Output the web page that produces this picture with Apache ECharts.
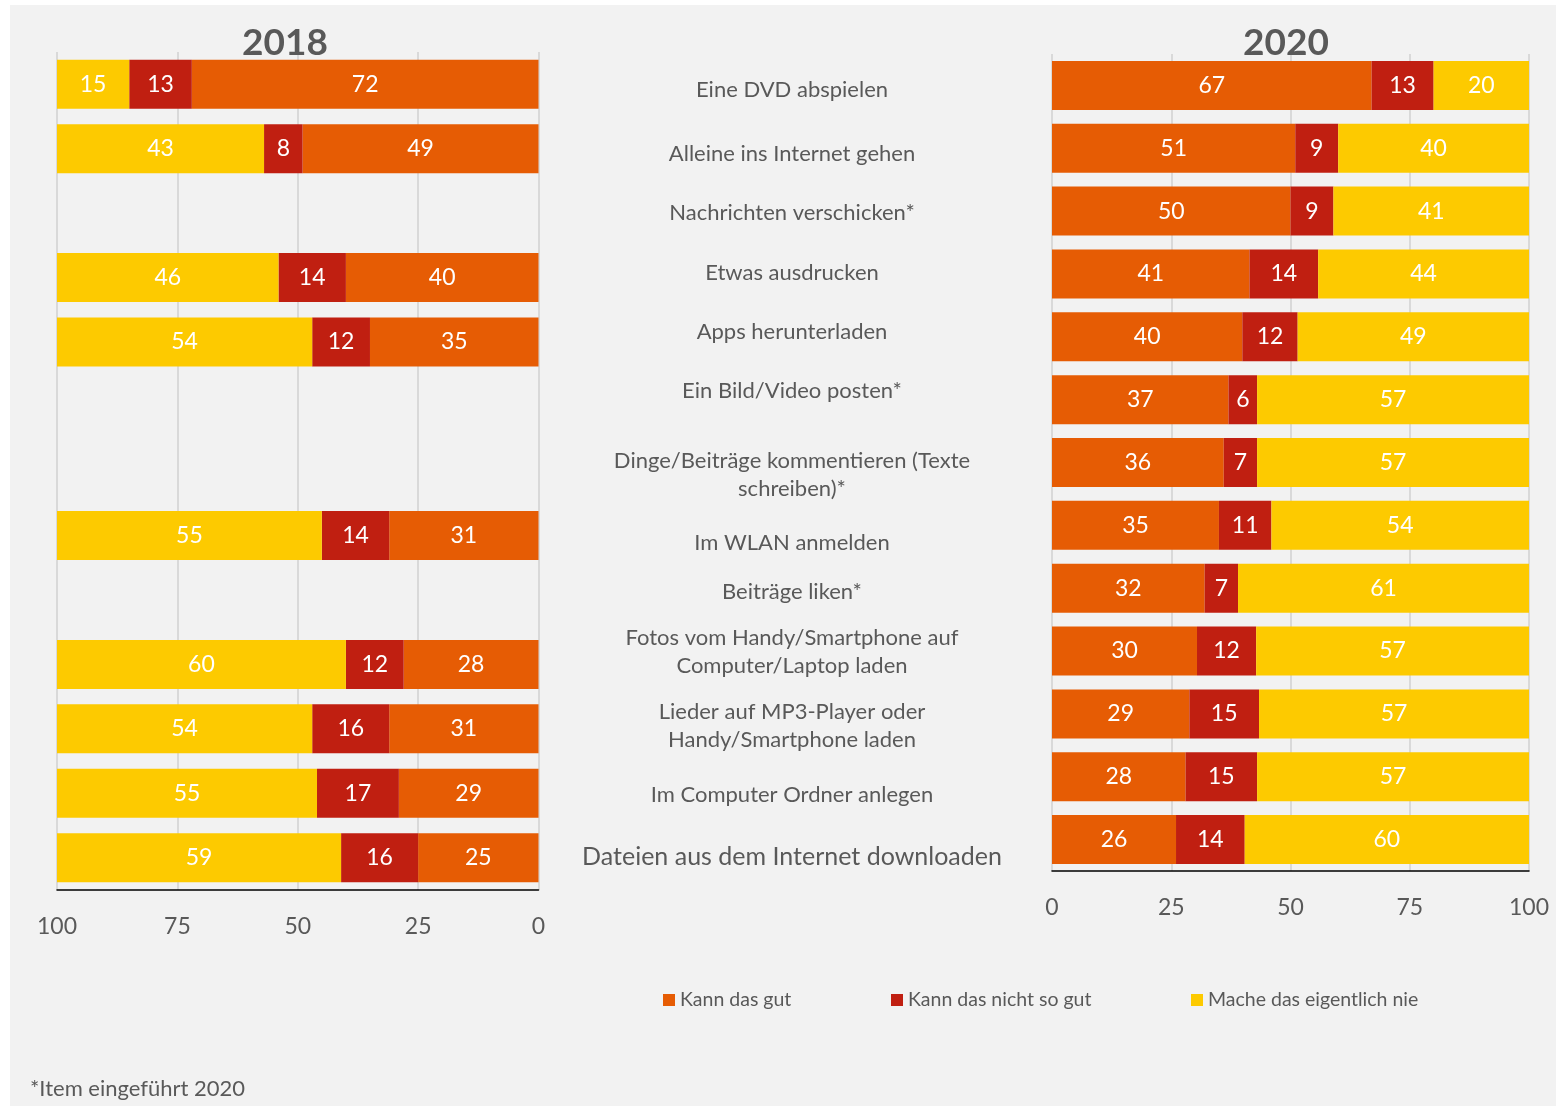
<!DOCTYPE html>
<html><head><meta charset="utf-8">
<script src="https://cdn.jsdelivr.net/npm/echarts@6/dist/echarts.min.js"></script>
<style>html,body{margin:0;padding:0;background:#fff}#c{width:1558px;height:1106px}</style>
</head><body><div id="c"></div>
<script>
const categories = [
  'Eine DVD abspielen',
  'Alleine ins Internet gehen',
  'Nachrichten verschicken*',
  'Etwas ausdrucken',
  'Apps herunterladen',
  'Ein Bild/Video posten*',
  'Dinge/Beiträge kommentieren (Texte\nschreiben)*',
  'Im WLAN anmelden',
  'Beiträge liken*',
  'Fotos vom Handy/Smartphone auf\nComputer/Laptop laden',
  'Lieder auf MP3-Player oder\nHandy/Smartphone laden',
  'Im Computer Ordner anlegen',
  'Dateien aus dem Internet downloaden'
];
const seriesNames = ['Kann das gut', 'Kann das nicht so gut', 'Mache das eigentlich nie'];
const years = ['2018', '2020'];
const gut2018        = [72, 49, null, 40, 35, null, null, 31, null, 28, 31, 29, 25];
const nichtSoGut2018 = [13,  8, null, 14, 12, null, null, 14, null, 12, 16, 17, 16];
const nie2018        = [15, 43, null, 46, 54, null, null, 55, null, 60, 54, 55, 59];
const gut2020        = [67, 51, 50, 41.4, 39.9, 37, 36, 35, 32, 30.4, 28.8, 28, 26];
const nichtSoGut2020 = [13,  9,  9, 14.4, 11.6,  6,  7, 11,  7, 12.4, 14.6, 15, 14.4];
const nie2020        = [20, 40, 41, 44.2, 48.5, 57, 57, 54, 61, 57.2, 56.6, 57, 59.6];
const xTicks = [0, 25, 50, 75, 100];
const footnote = '*Item eingeführt 2020';

// styling
const colors = ['#E65C04', '#C01F11', '#FDCA00'];
const FONT = 'Lato';
const GREY = '#595959';
const labelShift = [4, 6, 2, -1, -5, -9, 12, 18, 4, 1, 12, 18, 17];
const LBL_W = 470, LBL_LH = 28, LBL_FS = 22, LBL_FS_BIG = 25;

const chart = echarts.init(document.getElementById('c'), null, {renderer: 'canvas'});

// rich styles for the category labels (centered column, with small vertical offsets)
const rich = {
  c: {width: LBL_W, align: 'center', lineHeight: LBL_LH, fontSize: LBL_FS, fontFamily: FONT, color: GREY}
};
labelShift.forEach((d, i) => {
  const fs = i === categories.length - 1 ? LBL_FS_BIG : LBL_FS;
  rich['s' + i] = {
    width: LBL_W, align: 'center', fontSize: fs, fontFamily: FONT, color: GREY,
    lineHeight: LBL_LH + 2 * Math.abs(d),
    padding: d >= 0 ? [2 * d, 0, 0, 0] : [0, 0, -2 * d, 0]
  };
});
function catFormatter(value, index) {
  const lines = String(value).split('\n');
  const d = labelShift[index];
  const target = d >= 0 ? 0 : lines.length - 1;
  return lines.map((ln, k) => (k === target ? '{s' + index + '|' + ln + '}' : '{c|' + ln + '}')).join('\n');
}

function mkSeries(name, data, idx, stack, color) {
  return {
    type: 'bar', name, data, stack, xAxisIndex: idx, yAxisIndex: idx,
    barWidth: 49, clip: true,
    itemStyle: {color},
    label: {show: true, position: 'inside', color: '#fff', fontFamily: FONT, fontSize: 23,
      formatter: p => (p.value == null ? '' : Math.round(p.value))}
  };
}

const xAxisCommon = {
  type: 'value', min: xTicks[0], max: xTicks[xTicks.length - 1], interval: xTicks[1] - xTicks[0],
  axisLine: {show: true, lineStyle: {color: '#000', width: 1.5}},
  axisTick: {show: false},
  axisLabel: {color: GREY, fontFamily: FONT, fontSize: 23, margin: 25},
  splitLine: {show: true, lineStyle: {color: '#d9d9d9', width: 2}}
};

const legendBase = {icon: 'rect', itemWidth: 12, itemHeight: 12, itemGap: 0, padding: 0,
  textStyle: {color: GREY, fontFamily: FONT, fontSize: 19.5}};

const option = {
  backgroundColor: '#ffffff',
  animation: false,
  graphic: [{type: 'rect', shape: {x: 10, y: 5, width: 1546, height: 1101}, style: {fill: '#f2f2f2'}, z: -10, silent: true}],
  title: [
    {text: years[0], left: 280, top: 20, textAlign: 'center', textStyle: {fontFamily: FONT, fontWeight: 'bold', fontSize: 37, color: GREY}},
    {text: years[1], left: 1281, top: 20, textAlign: 'center', textStyle: {fontFamily: FONT, fontWeight: 'bold', fontSize: 37, color: GREY}},
    {text: footnote, left: 25, top: 1073, textStyle: {fontFamily: FONT, fontWeight: 'normal', fontSize: 22, color: GREY}}
  ],
  legend: [
    Object.assign({data: [seriesNames[0]], left: 663, top: 990}, legendBase),
    Object.assign({data: [seriesNames[1]], left: 891, top: 990}, legendBase),
    Object.assign({data: [seriesNames[2]], left: 1191, top: 990}, legendBase)
  ],
  grid: [
    {left: 57, width: 481.5, top: 52, height: 838},
    {left: 1052, width: 477, top: 54, height: 817}
  ],
  xAxis: [
    Object.assign({}, xAxisCommon, {gridIndex: 0, inverse: true}),
    Object.assign({}, xAxisCommon, {gridIndex: 1})
  ],
  yAxis: [
    {type: 'category', gridIndex: 0, inverse: true, data: categories,
      axisLine: {show: false}, axisTick: {show: false}, axisLabel: {show: false}, splitLine: {show: false}},
    {type: 'category', gridIndex: 1, inverse: true, data: categories,
      axisLine: {show: false}, axisTick: {show: false}, splitLine: {show: false},
      axisLabel: {show: true, interval: 0, margin: 1052 - 792 - LBL_W / 2,
        formatter: catFormatter, rich: rich, color: GREY, fontFamily: FONT, fontSize: LBL_FS}}
  ],
  series: [
    mkSeries(seriesNames[0], gut2018, 0, 's18', colors[0]),
    mkSeries(seriesNames[1], nichtSoGut2018, 0, 's18', colors[1]),
    mkSeries(seriesNames[2], nie2018, 0, 's18', colors[2]),
    mkSeries(seriesNames[0], gut2020, 1, 's20', colors[0]),
    mkSeries(seriesNames[1], nichtSoGut2020, 1, 's20', colors[1]),
    mkSeries(seriesNames[2], nie2020, 1, 's20', colors[2])
  ]
};
chart.setOption(option);
</script></body></html>
